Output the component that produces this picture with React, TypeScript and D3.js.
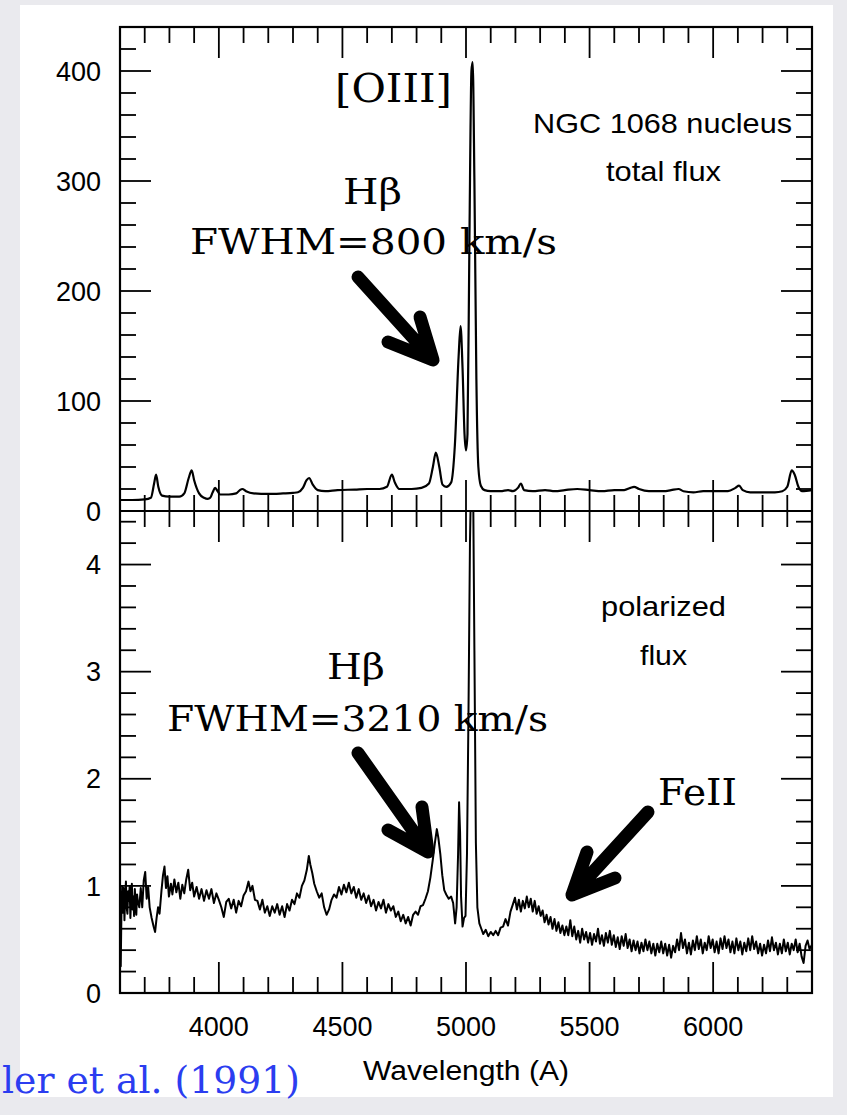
import React from "react";
import * as d3 from "d3";

// ---------- data ----------
const totalFlux: [number, number][] = [
  [3600, 10], [3650, 10], [3700, 10.5], [3725, 12], [3738, 25], [3746, 33], [3755, 22], [3770, 14],
  [3800, 13], [3840, 13], [3860, 16], [3878, 30], [3890, 37], [3900, 28], [3920, 16], [3940, 12],
  [3955, 11], [3965, 12], [3975, 17], [3985, 21], [3995, 18], [4005, 15], [4040, 15], [4070, 16],
  [4085, 19], [4095, 20], [4110, 18], [4140, 16], [4200, 15.5], [4260, 16], [4300, 16.5], [4320, 17],
  [4340, 21], [4355, 28], [4365, 30], [4380, 24], [4400, 19], [4430, 18], [4480, 19], [4550, 19.5],
  [4600, 20], [4650, 20], [4680, 22], [4700, 33], [4712, 26], [4730, 20], [4780, 20], [4820, 21],
  [4850, 25], [4866, 40], [4878, 53], [4892, 40], [4905, 24], [4920, 22], [4940, 26], [4955, 60],
  [4970, 140], [4978, 168], [4986, 130], [4994, 70], [5000, 55], [5006, 70], [5014, 250], [5022, 400],
  [5027, 408], [5034, 300], [5042, 120], [5050, 40], [5060, 23], [5075, 19], [5100, 18], [5140, 18],
  [5170, 19], [5190, 18], [5210, 21], [5222, 25], [5235, 19], [5270, 18], [5320, 19], [5360, 18],
  [5400, 19], [5450, 20], [5500, 19], [5550, 18], [5600, 19], [5640, 19], [5665, 21], [5680, 22],
  [5700, 20], [5740, 18], [5800, 18], [5830, 19], [5860, 20], [5880, 18], [5920, 17], [5960, 18],
  [6000, 18], [6060, 18], [6090, 21], [6105, 23], [6120, 19], [6150, 17], [6200, 17], [6250, 17],
  [6280, 18], [6300, 22], [6318, 37], [6330, 33], [6345, 22], [6360, 18], [6400, 19],
];

const polarizedFlux: [number, number][] = [
  [3600, 0.78], [3603, 0.25], [3606, 0.8], [3609, 1.0], [3612, 0.75], [3615, 0.98], [3618, 0.68],
  [3621, 0.9], [3624, 1.04], [3627, 0.8], [3630, 0.74], [3633, 0.95], [3636, 0.86], [3639, 1.0],
  [3642, 0.7], [3645, 0.88], [3648, 1.02], [3651, 0.78], [3654, 0.9], [3657, 0.72], [3660, 0.97],
  [3663, 0.84], [3666, 0.73], [3669, 0.92], [3672, 0.86], [3678, 0.8], [3684, 0.98], [3690, 0.8],
  [3696, 1.05], [3702, 1.13], [3708, 0.88], [3714, 0.99], [3720, 0.8], [3728, 0.7], [3736, 0.62],
  [3742, 0.57], [3748, 0.7], [3754, 0.8], [3760, 0.74], [3768, 0.96], [3774, 1.1], [3780, 1.18],
  [3786, 0.98], [3792, 1.09], [3798, 0.9], [3806, 1.02], [3812, 0.92], [3820, 1.06], [3828, 0.94],
  [3836, 1.03], [3844, 0.88], [3852, 1.01], [3860, 0.93], [3868, 1.06], [3876, 1.15], [3884, 0.96],
  [3892, 1.03], [3900, 0.9], [3910, 0.99], [3920, 0.88], [3930, 0.97], [3940, 0.86], [3950, 0.96],
  [3960, 0.88], [3970, 0.97], [3980, 0.84], [3990, 0.93], [4000, 0.87], [4010, 0.8], [4020, 0.71],
  [4030, 0.85], [4040, 0.88], [4050, 0.79], [4060, 0.87], [4070, 0.75], [4080, 0.86], [4090, 0.81],
  [4100, 0.91], [4110, 0.95], [4120, 1.04], [4128, 0.95], [4136, 1.0], [4146, 0.87], [4156, 0.86],
  [4166, 0.78], [4176, 0.87], [4186, 0.75], [4196, 0.81], [4206, 0.72], [4216, 0.81], [4226, 0.75],
  [4236, 0.83], [4246, 0.73], [4256, 0.81], [4266, 0.71], [4276, 0.83], [4286, 0.77], [4296, 0.87],
  [4306, 0.83], [4316, 0.93], [4326, 0.89], [4336, 1.0], [4346, 1.05], [4356, 1.15], [4364, 1.28],
  [4370, 1.2], [4378, 1.12], [4386, 1.02], [4396, 0.95], [4406, 0.89], [4416, 0.93], [4426, 0.8],
  [4436, 0.73], [4446, 0.78], [4456, 0.87], [4466, 0.92], [4476, 0.89], [4486, 0.99], [4496, 0.92],
  [4506, 1.01], [4516, 0.94], [4526, 1.03], [4536, 0.93], [4546, 0.99], [4556, 0.89], [4566, 0.97],
  [4576, 0.87], [4586, 0.93], [4596, 0.84], [4606, 0.91], [4616, 0.81], [4626, 0.87], [4636, 0.77],
  [4646, 0.85], [4656, 0.79], [4666, 0.87], [4676, 0.75], [4686, 0.83], [4696, 0.77], [4706, 0.81],
  [4716, 0.71], [4726, 0.76], [4736, 0.67], [4746, 0.73], [4756, 0.65], [4766, 0.71], [4776, 0.63],
  [4786, 0.73], [4796, 0.76], [4806, 0.73], [4816, 0.81], [4826, 0.82], [4836, 0.88], [4846, 0.95],
  [4856, 1.08], [4866, 1.25], [4874, 1.4], [4882, 1.53], [4888, 1.45], [4896, 1.3], [4904, 1.1],
  [4912, 0.96], [4920, 0.92], [4930, 0.88], [4940, 0.9], [4948, 0.84], [4956, 0.65], [4962, 0.8],
  [4968, 1.3], [4972, 1.78], [4976, 1.5], [4980, 0.9], [4986, 0.62], [4992, 0.7], [4998, 0.72],
  [5004, 1.3], [5010, 2.6], [5016, 4.2], [5022, 5.0], [5028, 5.0], [5034, 3.2], [5040, 1.4],
  [5046, 0.8], [5054, 0.65], [5062, 0.6], [5070, 0.55], [5080, 0.59], [5090, 0.53], [5100, 0.57],
  [5110, 0.54], [5120, 0.58], [5130, 0.54], [5140, 0.61], [5150, 0.62], [5160, 0.69], [5170, 0.63],
  [5180, 0.76], [5190, 0.83], [5198, 0.89], [5206, 0.78], [5214, 0.87], [5222, 0.76], [5230, 0.86],
  [5238, 0.79], [5246, 0.9], [5254, 0.8], [5262, 0.88], [5270, 0.76], [5278, 0.86], [5286, 0.74],
  [5294, 0.81], [5302, 0.72], [5310, 0.77], [5318, 0.66], [5326, 0.73], [5334, 0.64], [5342, 0.71],
  [5350, 0.6], [5358, 0.69], [5366, 0.58], [5374, 0.66], [5382, 0.56], [5390, 0.63], [5398, 0.54],
  [5406, 0.62], [5414, 0.54], [5422, 0.68], [5430, 0.53], [5438, 0.62], [5446, 0.5], [5454, 0.58],
  [5462, 0.47], [5470, 0.6], [5478, 0.5], [5486, 0.57], [5494, 0.47], [5502, 0.56], [5510, 0.45],
  [5518, 0.55], [5526, 0.48], [5534, 0.6], [5542, 0.46], [5550, 0.54], [5558, 0.44], [5566, 0.56],
  [5574, 0.47], [5582, 0.58], [5590, 0.45], [5598, 0.54], [5606, 0.43], [5614, 0.52], [5622, 0.41],
  [5630, 0.53], [5638, 0.44], [5646, 0.55], [5654, 0.42], [5662, 0.5], [5670, 0.39], [5678, 0.49],
  [5686, 0.4], [5694, 0.48], [5702, 0.37], [5710, 0.47], [5718, 0.39], [5726, 0.5], [5734, 0.4],
  [5742, 0.48], [5750, 0.37], [5758, 0.46], [5766, 0.35], [5774, 0.46], [5782, 0.38], [5790, 0.48],
  [5798, 0.37], [5806, 0.46], [5814, 0.35], [5822, 0.45], [5830, 0.33], [5838, 0.44], [5846, 0.38],
  [5854, 0.5], [5862, 0.4], [5870, 0.56], [5878, 0.42], [5886, 0.5], [5894, 0.37], [5902, 0.47],
  [5910, 0.36], [5918, 0.49], [5926, 0.4], [5934, 0.53], [5942, 0.41], [5950, 0.5], [5958, 0.37],
  [5966, 0.47], [5974, 0.4], [5982, 0.53], [5990, 0.42], [5998, 0.5], [6006, 0.38], [6014, 0.48],
  [6022, 0.37], [6030, 0.51], [6038, 0.41], [6046, 0.53], [6054, 0.42], [6062, 0.5], [6070, 0.38],
  [6078, 0.48], [6086, 0.37], [6094, 0.51], [6102, 0.4], [6110, 0.48], [6118, 0.36], [6126, 0.47],
  [6134, 0.39], [6142, 0.51], [6150, 0.4], [6158, 0.53], [6166, 0.41], [6174, 0.48], [6182, 0.37],
  [6190, 0.46], [6198, 0.35], [6206, 0.45], [6214, 0.37], [6222, 0.49], [6230, 0.39], [6238, 0.52],
  [6246, 0.4], [6254, 0.47], [6262, 0.36], [6270, 0.46], [6278, 0.37], [6286, 0.5], [6294, 0.39],
  [6302, 0.47], [6310, 0.36], [6318, 0.46], [6326, 0.4], [6334, 0.5], [6342, 0.38], [6350, 0.46],
  [6358, 0.34], [6366, 0.28], [6374, 0.44], [6382, 0.49], [6390, 0.41], [6400, 0.45],
];

const xTickLabels = [4000, 4500, 5000, 5500, 6000];
const topTickLabels = [0, 100, 200, 300, 400];
const botTickLabels = [0, 1, 2, 3, 4];

const W = 847, H = 1115;
const L = 120, R = 812, T = 27, MID = 511, B = 993;
const SANS = "'Liberation Sans', Arial, Helvetica, sans-serif";
const SERIF = "'DejaVu Serif', Georgia, serif";

export default function App() {
  const x = d3.scaleLinear().domain([3600, 6400]).range([L, R]);
  const yTop = d3.scaleLinear().domain([0, 440]).range([MID, T]);
  const yBot = d3.scaleLinear().domain([0, 4.5]).range([B, MID]);

  const lineTop = d3.line<[number, number]>().x((d) => x(d[0])).y((d) => yTop(d[1])).curve(d3.curveMonotoneX);
  const lineBot = d3.line<[number, number]>().x((d) => x(d[0])).y((d) => yBot(d[1]));

  const xMinor = d3.range(3700, 6400, 100);
  const topMinor = d3.range(20, 440, 20);
  const botMinor = d3.range(1, 23).map((i) => i * 0.2);

  const minorLen = 16, majorLen = 31;
  const isMajorX = (v: number) => v % 500 === 0;
  const isMajorTop = (v: number) => v % 100 === 0;
  const isMajorBot = (v: number) => Math.abs(v - Math.round(v)) < 1e-6;

  const tk = { stroke: "#000", strokeWidth: 1.8 } as const;

  return (
    <svg width={W} height={H} style={{ position: "absolute", left: 0, top: 0, display: "block" }}>
      <defs>
        <clipPath id="clipTop"><rect x={L} y={T} width={R - L} height={MID - T} /></clipPath>
        <clipPath id="clipBot"><rect x={L} y={MID} width={R - L} height={B - MID} /></clipPath>
      </defs>
      <rect x={0} y={0} width={W} height={H} fill="#eaeaee" />
      <rect x={20} y={5} width={813} height={1092} fill="#ffffff" />

      {/* spectra */}
      <path d={lineTop(totalFlux) || ""} fill="none" stroke="#000" strokeWidth={2.2} clipPath="url(#clipTop)" />
      <path d={lineBot(polarizedFlux) || ""} fill="none" stroke="#000" strokeWidth={2} strokeLinejoin="round" clipPath="url(#clipBot)" />

      {/* frame */}
      <rect x={L} y={T} width={R - L} height={B - T} fill="none" stroke="#000" strokeWidth={2.2} />
      <line x1={L} x2={R} y1={MID} y2={MID} stroke="#000" strokeWidth={2.2} />

      {/* x ticks */}
      {xMinor.map((v) => {
        const len = isMajorX(v) ? majorLen : minorLen;
        const px = x(v);
        return (
          <g key={"xt" + v}>
            <line x1={px} x2={px} y1={T} y2={T + len} {...tk} />
            <line x1={px} x2={px} y1={MID - len} y2={MID + len} {...tk} />
            <line x1={px} x2={px} y1={B} y2={B - len} {...tk} />
          </g>
        );
      })}

      {/* y ticks top panel */}
      {topMinor.map((v) => {
        const len = isMajorTop(v) ? majorLen : minorLen;
        const py = yTop(v);
        return (
          <g key={"yt" + v}>
            <line x1={L} x2={L + len} y1={py} y2={py} {...tk} />
            <line x1={R} x2={R - len} y1={py} y2={py} {...tk} />
          </g>
        );
      })}
      {/* y ticks bottom panel */}
      {botMinor.map((v) => {
        const len = isMajorBot(v) ? majorLen : minorLen;
        const py = yBot(v);
        return (
          <g key={"yb" + v}>
            <line x1={L} x2={L + len} y1={py} y2={py} {...tk} />
            <line x1={R} x2={R - len} y1={py} y2={py} {...tk} />
          </g>
        );
      })}

      {/* tick labels */}
      <g fontFamily={SANS} fontSize={27} fill="#000">
        {topTickLabels.map((v) => (
          <text key={"lt" + v} x={101} y={yTop(v)} dy="0.36em" textAnchor="end">{v}</text>
        ))}
        {botTickLabels.map((v) => (
          <text key={"lb" + v} x={101} y={yBot(v)} dy="0.36em" textAnchor="end">{v}</text>
        ))}
        {xTickLabels.map((v) => (
          <text key={"lx" + v} x={x(v)} y={1036} textAnchor="middle">{v}</text>
        ))}
        <text x={466} y={1080} textAnchor="middle" textLength={206} lengthAdjust="spacingAndGlyphs">Wavelength (A)</text>
      </g>

      {/* panel labels */}
      <g fontFamily={SANS} fontSize={28} fill="#000">
        <text x={533} y={133} textLength={259} lengthAdjust="spacingAndGlyphs">NGC 1068 nucleus</text>
        <text x={606} y={181} textLength={115} lengthAdjust="spacingAndGlyphs">total flux</text>
        <text x={601} y={616} textLength={125} lengthAdjust="spacingAndGlyphs">polarized</text>
        <text x={640} y={665} textLength={47} lengthAdjust="spacingAndGlyphs">flux</text>
      </g>

      {/* annotations */}
      <g fontFamily={SERIF} fontSize={36} fill="#000">
        <text x={335} y={102} fontSize={39} textLength={117} lengthAdjust="spacingAndGlyphs">[OIII]</text>
        <text x={343} y={204} textLength={59} lengthAdjust="spacingAndGlyphs">Hβ</text>
        <text x={190} y={254} textLength={367} lengthAdjust="spacingAndGlyphs">FWHM=800 km/s</text>
        <text x={327} y={679} textLength={58} lengthAdjust="spacingAndGlyphs">Hβ</text>
        <text x={167} y={731} textLength={381} lengthAdjust="spacingAndGlyphs">FWHM=3210 km/s</text>
        <text x={658} y={805} fontSize={38} textLength={79} lengthAdjust="spacingAndGlyphs">FeII</text>
      </g>

      {/* arrows */}
      <g fill="none" stroke="#000" strokeWidth={13} strokeLinecap="round" strokeLinejoin="round">
        <path d="M358,277 L433,360 M420,317 L433,360 L388,342" />
        <path d="M358,753 L428,852 M422,807 L428,852 L388,830" />
        <path d="M648,812 L572,895 M587,852 L572,895 L615,878" />
      </g>

      <text x={300} y={1093} textAnchor="end" fontFamily={SERIF} fontSize={38} fill="#2b3df0" textLength={298} lengthAdjust="spacingAndGlyphs">ler et al. (1991)</text>
    </svg>
  );
}
